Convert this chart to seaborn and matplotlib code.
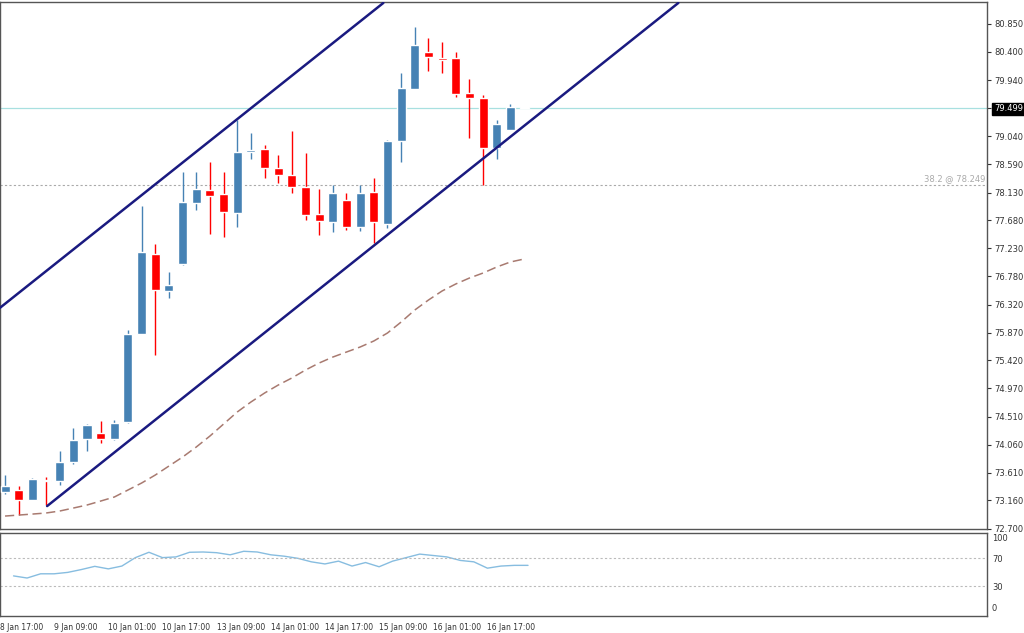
import numpy as np
import pandas as pd
import matplotlib
matplotlib.use('Agg')
import matplotlib.pyplot as plt
import seaborn as sns

# candle data (hourly bars, 8 Jan - 16 Jan)
opens = [73.297, 73.329, 73.167, 73.490, 73.474, 73.781, 74.152, 74.249, 74.152, 74.426,
         75.846, 77.138, 76.541, 76.976, 77.961, 78.171, 78.106, 77.799, 78.784, 78.832,
         78.526, 78.413, 78.219, 77.783, 77.654, 78.009, 77.573, 78.138, 77.622, 78.961,
         79.801, 80.398, 80.301, 80.301, 79.736, 79.656, 78.848, 79.139, 79.499]
highs = [73.571, 73.394, 73.522, 73.539, 73.958, 74.330, 74.394, 74.442, 74.459, 75.911,
         77.912, 77.299, 76.847, 78.461, 78.461, 78.622, 78.461, 79.300, 79.091, 78.897,
         78.735, 79.123, 78.768, 78.187, 78.251, 78.122, 78.251, 78.364, 78.978, 80.059,
         80.801, 80.624, 80.559, 80.398, 79.962, 79.704, 79.300, 79.559, 79.510]
lows = [73.265, 72.926, 73.167, 73.087, 73.410, 73.750, 73.958, 74.088, 74.136, 74.410,
        75.846, 75.508, 76.428, 76.960, 77.850, 77.460, 77.412, 77.573, 78.671, 78.364,
        78.284, 78.122, 77.687, 77.444, 77.493, 77.525, 77.509, 77.315, 77.557, 78.622,
        79.801, 80.091, 80.059, 79.672, 79.010, 78.251, 78.671, 79.139, 79.490]
closes = [73.394, 73.167, 73.506, 73.474, 73.781, 74.136, 74.378, 74.152, 74.410, 75.846,
          77.170, 76.557, 76.638, 77.977, 78.187, 78.074, 77.816, 78.784, 78.816, 78.526,
          78.413, 78.219, 77.767, 77.670, 78.122, 77.573, 78.122, 77.654, 78.961, 79.817,
          80.511, 80.317, 80.269, 79.720, 79.656, 78.848, 79.236, 79.510, 79.499]
ma = [72.909, 72.925, 72.941, 72.958, 72.990, 73.038, 73.087, 73.151, 73.216, 73.329,
      73.442, 73.571, 73.716, 73.861, 74.023, 74.200, 74.394, 74.588, 74.749, 74.894,
      75.023, 75.137, 75.266, 75.379, 75.475, 75.556, 75.637, 75.734, 75.863, 76.040,
      76.234, 76.395, 76.541, 76.654, 76.750, 76.831, 76.928, 77.009, 77.057]
rsi = [45, 42, 48, 48, 50, 54, 58.6, 55, 59, 71, 78.6, 71, 72, 78.6, 79, 78, 75, 80, 79, 75,
       73, 70, 65, 62, 66, 59, 64, 58, 66, 71, 76, 74, 72, 67, 65, 56, 59, 60, 60]

# channel lines (bar index, price)
lower_channel = ([3.08, 49.3], [73.07, 81.19])
upper_channel = ([-0.37, 27.7], [76.27, 81.19])

price_ticks = [72.700, 73.160, 73.610, 74.060, 74.510, 74.970, 75.420, 75.870, 76.320,
               76.780, 77.230, 77.680, 78.130, 78.590, 79.040, 79.499, 79.940, 80.400, 80.850]
time_labels = ['8 Jan 17:00', '9 Jan 09:00', '10 Jan 01:00', '10 Jan 17:00', '13 Jan 09:00',
               '14 Jan 01:00', '14 Jan 17:00', '15 Jan 09:00', '16 Jan 01:00', '16 Jan 17:00']
time_ticks = [-1, 3, 7, 11, 15, 19, 23, 27, 31, 35]
last_price = 79.499
fibo_level = 78.249

sns.set_style('white')
plt.rcParams['font.family'] = ['DejaVu Sans']

df = pd.DataFrame({'idx': np.arange(len(opens)), 'open': opens, 'high': highs,
                   'low': lows, 'close': closes, 'ma': ma, 'rsi': rsi})
up_color = '#4682b4'
down_color = '#ff0000'

fig = plt.figure(figsize=(10.24, 6.33), dpi=100)
W, H = 1024, 633
ax = fig.add_axes([0, 1 - 529 / H, 987 / W, 527 / H])
ax2 = fig.add_axes([0, 1 - 616 / H, 987 / W, 83 / H])

# candles
colors = [up_color if c >= o else down_color for o, c in zip(df['open'], df['close'])]
ax.vlines(df['idx'], df['low'], df['high'], colors=colors, linewidth=1, zorder=2)
body_lo = np.minimum(df['open'], df['close'])
body_h = np.maximum(np.abs(df['close'] - df['open']), 0.012)
ax.bar(df['idx'], body_h, bottom=body_lo, width=0.66, color=colors, zorder=3)

sns.lineplot(data=df, x='idx', y='ma', ax=ax, color='#a87a70', linestyle=(0, (6, 3)),
             linewidth=1.1, zorder=2)
ax.plot(*lower_channel, color='#1a1a80', linewidth=1.8, zorder=4)
ax.plot(*upper_channel, color='#1a1a80', linewidth=1.8, zorder=4)
ax.axhline(last_price, color='#a8e0e0', linewidth=0.9, zorder=1)
ax.axhline(fibo_level, color='#aaaaaa', linewidth=0.8, linestyle=(0, (2, 2)), zorder=1)
ax.text(71.8, fibo_level + 0.03, '38.2 @ 78.249', color='#aaaaaa', fontsize=6,
        ha='right', va='bottom')

ax.set_xlim(-0.37, 71.9)
ax.set_ylim(72.700, 81.205)
ax.yaxis.tick_right()
ax.set_yticks(price_ticks)
ax.set_yticklabels([f'{t:.3f}' for t in price_ticks])
ax.tick_params(axis='y', labelsize=6, length=3, pad=2, colors='#333333', direction='out', right=True)
ax.set_xticks([])
ax.set_xlabel('')
ax.set_ylabel('')
lbls = ax.get_yticklabels()
lbls[15].set_bbox(dict(facecolor='black', edgecolor='black', pad=1.2))
lbls[15].set_color('white')

# RSI panel
sns.lineplot(data=df, x='idx', y='rsi', ax=ax2, color='#87bde0', linewidth=1)
for lvl in (70, 30):
    ax2.axhline(lvl, color='#bbbbbb', linewidth=0.8, linestyle=(0, (2, 2)))
ax2.set_xlim(-0.37, 71.9)
ax2.set_ylim(-12, 106)
ax2.yaxis.tick_right()
ax2.set_yticks([0, 30, 70, 100])
ax2.tick_params(axis='y', labelsize=6, length=0, colors='#333333')
ax2.set_xticks(time_ticks)
ax2.set_xticklabels(time_labels, ha='left')
ax2.tick_params(axis='x', labelsize=5.5, length=3, colors='#333333', pad=2)
ax2.set_xlabel('')
ax2.set_ylabel('')

for a in (ax, ax2):
    for s in a.spines.values():
        s.set_color('#555555')
        s.set_linewidth(1)

fig.savefig('out.png', dpi=100)
